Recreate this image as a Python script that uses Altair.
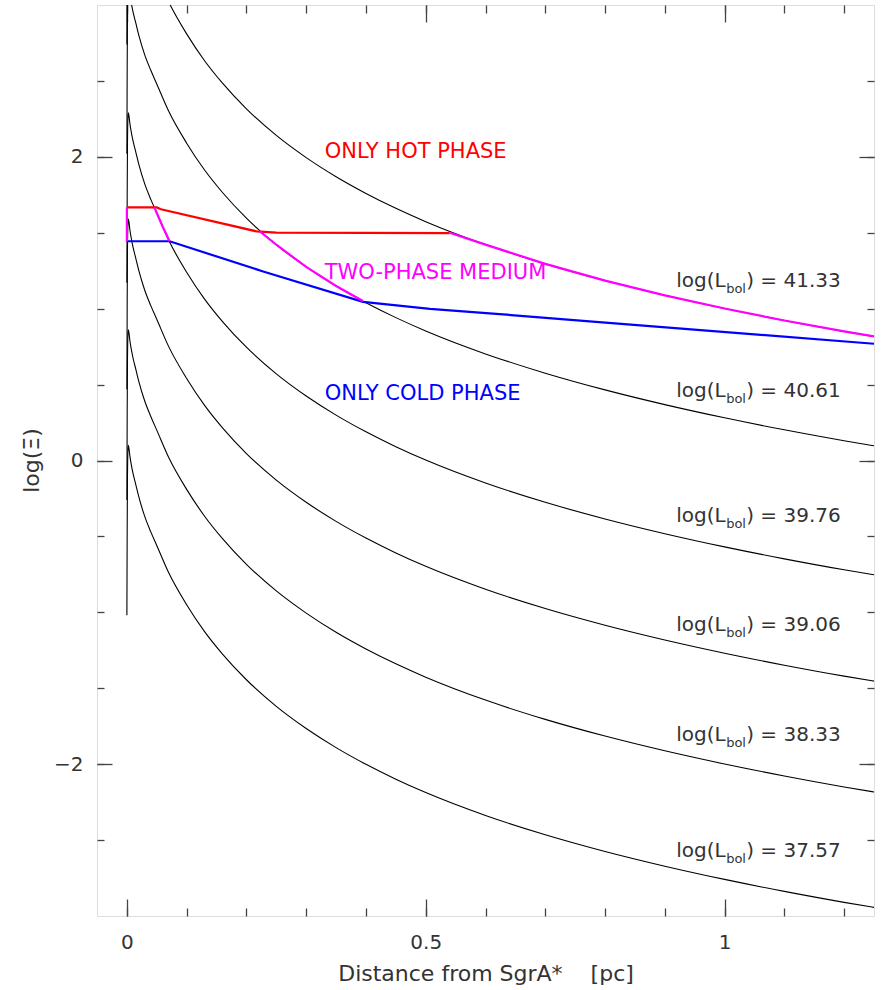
import altair as alt
import pandas as pd

# Distance from SgrA* (pc) at which each ionisation-parameter curve is sampled
R = [0, 0.0005, 0.001, 0.0018, 0.0025, 0.0035, 0.005, 0.0075, 0.01, 0.015,
     0.02, 0.03, 0.04, 0.05, 0.07, 0.1, 0.13, 0.16, 0.2, 0.25,
     0.3, 0.35, 0.4, 0.45, 0.5, 0.6, 0.7, 0.8, 0.9, 1.0,
     1.1, 1.2, 1.25]

# log(Xi) for each bolometric luminosity
XI_4133 = [2.74, 3.31, 3.66, 3.83, 3.86, 3.84, 3.79, 3.73, 3.68, 3.60,
           3.52, 3.39, 3.29, 3.20, 3.02, 2.81, 2.633, 2.485, 2.316, 2.141,
           1.995, 1.869, 1.759, 1.661, 1.573, 1.422, 1.295, 1.185, 1.088, 1.001,
           0.922, 0.850, 0.817]
XI_4061 = [2.02, 2.59, 2.94, 3.11, 3.14, 3.12, 3.07, 3.01, 2.96, 2.88,
           2.80, 2.67, 2.57, 2.48, 2.30, 2.09, 1.913, 1.765, 1.596, 1.421,
           1.275, 1.149, 1.039, 0.941, 0.853, 0.702, 0.575, 0.465, 0.368, 0.281,
           0.202, 0.130, 0.097]
XI_3976 = [1.17, 1.74, 2.09, 2.26, 2.29, 2.27, 2.22, 2.16, 2.11, 2.03,
           1.95, 1.82, 1.72, 1.63, 1.45, 1.24, 1.063, 0.915, 0.746, 0.571,
           0.425, 0.299, 0.189, 0.091, 0.003, -0.148, -0.275, -0.385, -0.482, -0.569,
           -0.648, -0.720, -0.753]
XI_3906 = [0.47, 1.04, 1.39, 1.56, 1.59, 1.57, 1.52, 1.46, 1.41, 1.33,
           1.25, 1.12, 1.02, 0.93, 0.75, 0.54, 0.363, 0.215, 0.046, -0.129,
           -0.275, -0.401, -0.511, -0.609, -0.697, -0.848, -0.975, -1.085, -1.182, -1.269,
           -1.348, -1.420, -1.453]
XI_3833 = [-0.26, 0.31, 0.66, 0.83, 0.86, 0.84, 0.79, 0.73, 0.68, 0.60,
           0.52, 0.39, 0.29, 0.20, 0.02, -0.19, -0.367, -0.515, -0.684, -0.859,
           -1.005, -1.131, -1.241, -1.339, -1.427, -1.578, -1.705, -1.815, -1.912, -1.999,
           -2.078, -2.150, -2.183]
XI_3757 = [-1.02, -0.45, -0.10, 0.07, 0.10, 0.08, 0.03, -0.03, -0.08, -0.16,
           -0.24, -0.37, -0.47, -0.56, -0.74, -0.95, -1.127, -1.275, -1.444, -1.619,
           -1.765, -1.891, -2.001, -2.099, -2.187, -2.338, -2.465, -2.575, -2.672, -2.759,
           -2.838, -2.910, -2.943]

LBOL = ["41.33", "40.61", "39.76", "39.06", "38.33", "37.57"]
CURVES = [XI_4133, XI_4061, XI_3976, XI_3906, XI_3833, XI_3757]

# curve labels: anchor distance and baseline height
LABEL_X = 0.919
LABEL_Y = [1.143, 0.420, -0.404, -1.121, -1.847, -2.612]

# phase boundaries
HOT_R = [0, 0.05, 0.057, 0.217, 0.25, 0.54]
HOT_XI = [1.667, 1.667, 1.655, 1.509, 1.501, 1.497]

COLD_R = [0, 0.0715, 0.228, 0.395, 0.507, 0.618, 0.79, 1.25]
COLD_XI = [1.444, 1.444, 1.245, 1.045, 0.999, 0.966, 0.911, 0.769]

TWO_SEG = [1, 1, 2, 2, 2, 2, 3, 3, 3, 3, 3, 4, 4, 4, 4, 4, 4, 4, 4, 4]
TWO_R = [0, 0, 0.046, 0.05, 0.06, 0.0715, 0.222, 0.25, 0.3, 0.35, 0.395,
         0.54, 0.6, 0.7, 0.8, 0.9, 1.0, 1.1, 1.2, 1.25]
TWO_XI = [1.667, 1.444, 1.667, 1.63, 1.54, 1.444, 1.51, 1.421, 1.275, 1.149, 1.05,
          1.50, 1.422, 1.295, 1.185, 1.088, 1.001, 0.922, 0.850, 0.817]

PHASE_TEXT = ["ONLY HOT PHASE", "TWO-PHASE MEDIUM", "ONLY COLD PHASE"]
PHASE_COLOR = ["#ff0000", "#ff00ff", "#0000ff"]
PHASE_X = [0.331, 0.331, 0.331]
PHASE_Y = [1.995, 1.196, 0.397]

X_MAJOR = [0, 0.5, 1]
X_MINOR = [round(0.1 * k, 1) for k in range(13)]
Y_MAJOR = [-2, 0, 2]
Y_MINOR = [-2.5, -2, -1.5, -1, -0.5, 0, 0.5, 1, 1.5, 2, 2.5]

INK = "#333333"
FONT = "DejaVu Sans"

# ---- tables ----
rows = []
for name, vals in zip(LBOL, CURVES):
    for i, (r, v) in enumerate(zip(R, vals)):
        rows.append({"curve": name, "i": i, "r": r, "xi": v})
curves = pd.DataFrame(rows)

hot = pd.DataFrame({"r": HOT_R, "xi": HOT_XI, "i": range(len(HOT_R))})
cold = pd.DataFrame({"r": COLD_R, "xi": COLD_XI, "i": range(len(COLD_R))})
two = pd.DataFrame({"seg": TWO_SEG, "r": TWO_R, "xi": TWO_XI, "i": range(len(TWO_R))})
phases = pd.DataFrame({"text": PHASE_TEXT, "color": PHASE_COLOR, "r": PHASE_X, "xi": PHASE_Y})
labels = pd.DataFrame({
    "r": [LABEL_X] * len(LBOL),
    "xi": LABEL_Y,
    "head": ["log(L"] * len(LBOL),
    "sub": ["bol"] * len(LBOL),
    "tail": [") = " + s for s in LBOL],
})

xs = alt.Scale(domain=[-0.05, 1.25], nice=False, zero=False)
ys = alt.Scale(domain=[-3, 3], nice=False, zero=False)


def tick_axis(orient, values, size):
    # inward-pointing ticks: shift the axis into the frame by its tick length
    return alt.Axis(orient=orient, values=values, labels=False, domain=False,
                    grid=False, ticks=True, tickSize=size, offset=-size,
                    tickColor="#444444", tickWidth=1.3, title=None)


x_label_axis = alt.Axis(
    orient="bottom", values=X_MAJOR, format=".1~f", ticks=False, tickSize=0,
    domain=False, grid=False, labelFont=FONT, labelFontSize=20, labelColor=INK,
    labelPadding=16, title="Distance from SgrA*\u00a0\u00a0\u00a0 [pc]",
    titleFont=FONT, titleFontSize=22, titleFontWeight="normal", titleColor=INK,
    titleY=64, titleBaseline="alphabetic")

y_label_axis = alt.Axis(
    orient="left", values=Y_MAJOR, format=".0f", ticks=False, tickSize=0,
    domain=False, grid=False, labelFont=FONT, labelFontSize=20, labelColor=INK,
    labelPadding=14, title="log(\u039e)", titleFont=FONT, titleFontSize=22,
    titleFontWeight="normal", titleColor=INK, titleAngle=270, titleX=-66,
    titleY=455, titleAlign="center", titleBaseline="middle")

black = alt.Chart(curves).mark_line(
    color="black", strokeWidth=1.1, clip=True, interpolate="monotone"
).encode(
    x=alt.X("r:Q", scale=xs, axis=x_label_axis),
    y=alt.Y("xi:Q", scale=ys, axis=y_label_axis),
    detail="curve:N",
    order="i:Q",
)

red = alt.Chart(hot).mark_line(color="#ff0000", strokeWidth=2.2, clip=True).encode(
    x=alt.X("r:Q", scale=xs, axis=tick_axis("bottom", X_MAJOR, 17)),
    y=alt.Y("xi:Q", scale=ys, axis=tick_axis("left", Y_MAJOR, 15)),
    order="i:Q",
)

blue = alt.Chart(cold).mark_line(color="#0000ff", strokeWidth=2.2, clip=True).encode(
    x=alt.X("r:Q", scale=xs, axis=tick_axis("bottom", X_MINOR, 8)),
    y=alt.Y("xi:Q", scale=ys, axis=tick_axis("left", Y_MINOR, 7)),
    order="i:Q",
)

magenta = alt.Chart(two).mark_line(color="#ff00ff", strokeWidth=2.2, clip=True).encode(
    x=alt.X("r:Q", scale=xs, axis=tick_axis("top", X_MAJOR, 17)),
    y=alt.Y("xi:Q", scale=ys, axis=tick_axis("right", Y_MAJOR, 15)),
    detail="seg:N",
    order="i:Q",
)

phase_text = alt.Chart(phases).mark_text(
    align="left", baseline="alphabetic", font=FONT, fontSize=21
).encode(
    x=alt.X("r:Q", scale=xs, axis=tick_axis("top", X_MINOR, 8)),
    y=alt.Y("xi:Q", scale=ys, axis=tick_axis("right", Y_MINOR, 7)),
    text="text:N",
    color=alt.Color("color:N", scale=None),
)

label_base = alt.Chart(labels).encode(
    x=alt.X("r:Q", scale=xs, axis=None),
    y=alt.Y("xi:Q", scale=ys, axis=None),
)
label_head = label_base.mark_text(
    align="left", baseline="alphabetic", font=FONT, fontSize=20, color=INK
).encode(text="head:N")
label_sub = label_base.mark_text(
    align="left", baseline="alphabetic", font=FONT, fontSize=13, color=INK,
    dx=50, dy=6
).encode(text="sub:N")
label_tail = label_base.mark_text(
    align="left", baseline="alphabetic", font=FONT, fontSize=20, color=INK,
    dx=70
).encode(text="tail:N")

chart = alt.layer(
    black, red, blue, magenta, phase_text, label_head, label_sub, label_tail
).resolve_axis(
    x="independent", y="independent"
).properties(
    width=777,
    height=911,
    autosize=alt.AutoSizeParams(type="none"),
    padding={"left": 97, "top": 5, "right": 7, "bottom": 74},
).configure_view(
    stroke="#444444", strokeWidth=1.3
).configure(
    font=FONT, background="white"
)

chart.save("out.html", embed_options={"renderer": "svg", "actions": False})
